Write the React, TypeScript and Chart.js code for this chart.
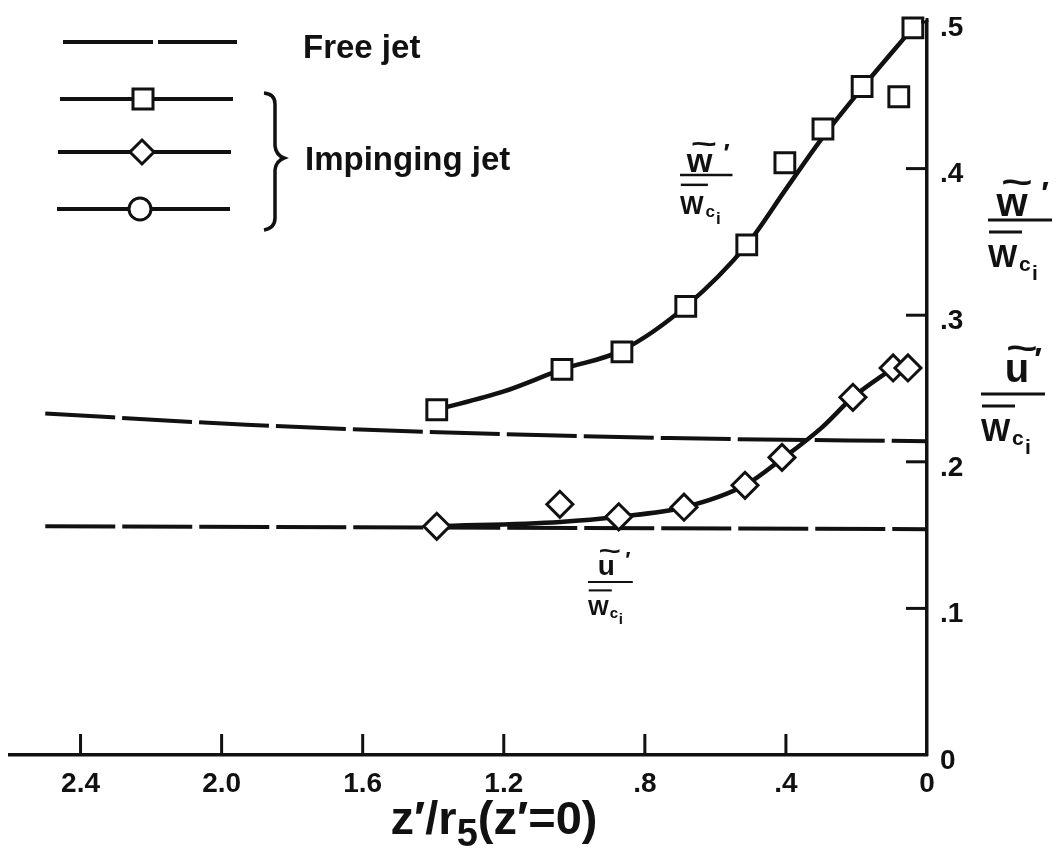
import React, { useEffect, useRef } from "react";
import { Chart, registerables } from "chart.js";

Chart.register(...registerables);

// ---- axis ticks ----
const xTickValues = [2.4, 2.0, 1.6, 1.2, 0.8, 0.4, 0];
const xTickLabels = ["2.4", "2.0", "1.6", "1.2", ".8", ".4", "0"];
const yTickValues = [0, 0.1, 0.2, 0.3, 0.4, 0.5];
const yTickLabels = ["0", ".1", ".2", ".3", ".4", ".5"];

// ---- impinging jet, w'/Wci (squares) ----
const wSquareX = [1.39, 1.035, 0.865, 0.684, 0.511, 0.403, 0.295, 0.184, 0.08, 0.04];
const wSquareY = [0.2355, 0.263, 0.275, 0.306, 0.348, 0.404, 0.427, 0.456, 0.449, 0.496];
// faired curve through the squares
const wCurveX = [1.39, 1.2, 1.035, 0.865, 0.684, 0.511, 0.4, 0.3, 0.184, 0.04];
const wCurveY = [0.2355, 0.248, 0.263, 0.276, 0.306, 0.348, 0.386, 0.42, 0.455, 0.496];

// ---- impinging jet, u'/Wci (diamonds) ----
const uDiamondX = [1.39, 1.041, 0.874, 0.689, 0.516, 0.411, 0.21, 0.096, 0.054];
const uDiamondY = [0.156, 0.171, 0.1625, 0.169, 0.184, 0.203, 0.244, 0.264, 0.264];
// faired curve through the diamonds
const uCurveX = [1.39, 1.04, 0.874, 0.689, 0.516, 0.411, 0.3, 0.21, 0.096];
const uCurveY = [0.156, 0.159, 0.1625, 0.169, 0.184, 0.202, 0.223, 0.244, 0.264];

// ---- free jet (dashed) ----
const freeUpperX = [2.5, 1.93, 1.36, 0.73, 0];
const freeUpperY = [0.233, 0.2253, 0.22, 0.2162, 0.214];
const freeLowerX = [2.5, 0];
const freeLowerY = [0.156, 0.154];

const INK = "#111111";
const FONT = "'Liberation Sans', 'DejaVu Sans', Arial, sans-serif";

const pts = (xs: number[], ys: number[]) => xs.map((x, i) => ({ x, y: ys[i] }));

function line(ctx: CanvasRenderingContext2D, x1: number, y1: number, x2: number, y2: number) {
  ctx.beginPath();
  ctx.moveTo(x1, y1);
  ctx.lineTo(x2, y2);
  ctx.stroke();
}

function drawFrac(
  ctx: CanvasRenderingContext2D,
  x0: number,
  b: number,
  s: number,
  letter: string,
  numCx: number,
  numBase: number
) {
  ctx.save();
  ctx.fillStyle = INK;
  ctx.strokeStyle = INK;
  ctx.textBaseline = "alphabetic";
  ctx.textAlign = "center";
  ctx.font = `bold ${Math.round(40 * s)}px ${FONT}`;
  ctx.fillText(letter, x0 + numCx * s, b - numBase * s);
  // tilde (wide)
  ctx.save();
  ctx.translate(x0 + (numCx + 5) * s, b - (numBase + 23) * s);
  ctx.scale(1.6, 1);
  ctx.font = `bold ${Math.round(34 * s)}px ${FONT}`;
  ctx.fillText("~", 0, 0);
  ctx.restore();
  ctx.font = `bold ${Math.round(32 * s)}px ${FONT}`;
  ctx.fillText("\u2032", x0 + 57 * s, b - (numBase + 12) * s);
  ctx.lineWidth = 3 * s;
  line(ctx, x0, b, x0 + 64 * s, b);
  line(ctx, x0 + 1 * s, b + 12 * s, x0 + 34 * s, b + 12 * s);
  ctx.textAlign = "left";
  ctx.font = `bold ${Math.round(31 * s)}px ${FONT}`;
  ctx.fillText("W", x0, b + 47 * s);
  ctx.font = `bold ${Math.round(21 * s)}px ${FONT}`;
  ctx.fillText("c", x0 + 31 * s, b + 51 * s);
  ctx.fillText("i", x0 + 44 * s, b + 60 * s);
  ctx.restore();
}

const decorPlugin = {
  id: "decor",
  afterDraw(chart: any) {
    const ctx: CanvasRenderingContext2D = chart.ctx;
    const xs = chart.scales.x;
    const ys = chart.scales.y;
    const area = chart.chartArea;
    ctx.save();
    ctx.strokeStyle = INK;
    ctx.fillStyle = INK;
    ctx.lineCap = "butt";

    // inward tick marks
    ctx.lineWidth = 3;
    xTickValues.forEach((v) => {
      if (v === 0) return;
      const px = xs.getPixelForValue(v);
      line(ctx, px, area.bottom, px, area.bottom - 21);
    });
    yTickValues.forEach((v) => {
      if (v === 0) return;
      const py = ys.getPixelForValue(v);
      const len = v >= 0.5 ? 6 : 21;
      line(ctx, area.right, py, area.right - len, py);
    });
    // top of y-axis
    line(ctx, area.right, area.top, area.right, area.top - 4);

    // axis title z'/r5(z'=0)
    ctx.textBaseline = "alphabetic";
    ctx.textAlign = "left";
    const big = `bold 47px ${FONT}`;
    const sub = `bold 38px ${FONT}`;
    const p1 = "z\u2032/r";
    const p2 = "5";
    const p3 = "(z\u2032=0)";
    ctx.font = big;
    const w1 = ctx.measureText(p1).width;
    const w3 = ctx.measureText(p3).width;
    ctx.font = sub;
    const w2 = ctx.measureText(p2).width;
    const total = w1 + w2 + w3;
    let tx = 494 - total / 2;
    const tb = 834;
    ctx.font = big;
    ctx.fillText(p1, tx, tb);
    tx += w1;
    ctx.font = sub;
    ctx.fillText(p2, tx, tb + 12);
    tx += w2;
    ctx.font = big;
    ctx.fillText(p3, tx, tb);

    // legend
    ctx.lineWidth = 4;
    line(ctx, 63, 42, 153, 42);
    line(ctx, 158, 42, 237, 42);
    ctx.font = `bold 33px ${FONT}`;
    ctx.fillText("Free jet", 303, 58);

    line(ctx, 60, 99, 233, 99);
    line(ctx, 58, 152, 231, 152);
    line(ctx, 57, 209, 230, 209);
    ctx.lineWidth = 3;
    ctx.fillStyle = "#ffffff";
    ctx.beginPath();
    ctx.rect(133, 89, 20, 20);
    ctx.fill();
    ctx.stroke();
    ctx.beginPath();
    ctx.moveTo(142, 140);
    ctx.lineTo(154, 152);
    ctx.lineTo(142, 164);
    ctx.lineTo(130, 152);
    ctx.closePath();
    ctx.fill();
    ctx.stroke();
    ctx.beginPath();
    ctx.arc(140, 209, 11, 0, Math.PI * 2);
    ctx.fill();
    ctx.stroke();
    ctx.fillStyle = INK;

    // brace
    ctx.lineWidth = 3.5;
    ctx.beginPath();
    ctx.moveTo(264, 93);
    ctx.quadraticCurveTo(275, 94, 275, 104);
    ctx.lineTo(275, 146);
    ctx.quadraticCurveTo(276, 155, 284, 158);
    ctx.quadraticCurveTo(276, 161, 275, 170);
    ctx.lineTo(275, 218);
    ctx.quadraticCurveTo(275, 228, 264, 230);
    ctx.stroke();

    ctx.font = `bold 33px ${FONT}`;
    ctx.fillText("Impinging jet", 305, 170);

    // fraction labels
    drawFrac(ctx, 988, 220, 1, "w", 24, 4);
    drawFrac(ctx, 981, 394, 1, "u", 36, 12);
    drawFrac(ctx, 680, 175, 0.82, "w", 24, 4);
    drawFrac(ctx, 588, 582, 0.7, "u", 26, 10);

    ctx.restore();
  },
};

export default function App() {
  const ref = useRef<HTMLCanvasElement | null>(null);

  useEffect(() => {
    if (!ref.current) return;
    const lineDs = (xs: number[], ys: number[], dashed: boolean) => ({
      data: pts(xs, ys),
      showLine: true,
      borderColor: INK,
      backgroundColor: INK,
      borderWidth: dashed ? 4 : 4.5,
      borderDash: dashed ? [70, 7] : [],
      pointRadius: 0,
      pointHoverRadius: 0,
      cubicInterpolationMode: "monotone" as const,
      fill: false,
      order: 2,
    });
    const markerDs = (xs: number[], ys: number[], style: string, r: number) => ({
      data: pts(xs, ys),
      showLine: false,
      pointStyle: style,
      pointRadius: r,
      pointHoverRadius: r,
      pointBorderWidth: 3,
      pointBorderColor: INK,
      pointBackgroundColor: "#ffffff",
      borderColor: INK,
      backgroundColor: "#ffffff",
      clip: false,
      order: 0,
    });

    const chart = new Chart(ref.current, {
      type: "scatter",
      data: {
        datasets: [
          markerDs(wSquareX, wSquareY, "rect", 14) as any,
          markerDs(uDiamondX, uDiamondY, "rectRot", 13) as any,
          lineDs(wCurveX, wCurveY, false) as any,
          lineDs(uCurveX, uCurveY, false) as any,
          lineDs(freeUpperX, freeUpperY, true) as any,
          lineDs(freeLowerX, freeLowerY, true) as any,
        ],
      },
      options: {
        responsive: false,
        animation: false,
        devicePixelRatio: 1,
        events: [],
        layout: { autoPadding: false, padding: { left: 10, top: 22, right: 0, bottom: 0 } },
        plugins: {
          legend: { display: false },
          tooltip: { enabled: false },
          title: { display: false },
        },
        scales: {
          x: {
            type: "linear",
            position: "bottom",
            reverse: true,
            min: 0,
            max: 2.6,
            grid: { display: false, drawTicks: false },
            border: { display: true, color: INK, width: 3.5 },
            ticks: {
              autoSkip: false,
              maxRotation: 0,
              minRotation: 0,
              padding: 12,
              color: INK,
              font: { family: FONT, size: 28, weight: "bold" },
              callback: (value: any) => {
                const i = xTickValues.findIndex((v) => Math.abs(v - Number(value)) < 1e-9);
                return i >= 0 ? xTickLabels[i] : "";
              },
            },
            afterBuildTicks: (s: any) => {
              s.ticks = xTickValues.map((v) => ({ value: v }));
            },
            afterFit: (s: any) => {
              s.height = 93;
              s.paddingLeft = 0;
              s.paddingRight = 0;
            },
          },
          y: {
            type: "linear",
            position: "right",
            min: 0,
            max: 0.5,
            grid: { display: false, drawTicks: false },
            border: { display: true, color: INK, width: 3.5 },
            ticks: {
              autoSkip: false,
              padding: 13,
              labelOffset: 6,
              color: INK,
              font: { family: FONT, size: 28, weight: "bold" },
              callback: (value: any) => {
                const i = yTickValues.findIndex((v) => Math.abs(v - Number(value)) < 1e-9);
                return i >= 0 ? yTickLabels[i] : "";
              },
            },
            afterBuildTicks: (s: any) => {
              s.ticks = yTickValues.map((v) => ({ value: v }));
            },
            afterFit: (s: any) => {
              s.width = 134;
              s.paddingTop = 0;
              s.paddingBottom = 0;
            },
          },
        },
      } as any,
      plugins: [decorPlugin],
    });
    return () => chart.destroy();
  }, []);

  return (
    <div style={{ position: "absolute", left: 0, top: 0, width: 1061, height: 848, background: "#ffffff" }}>
      <canvas ref={ref} width={1061} height={848} style={{ width: 1061, height: 848, display: "block" }} />
    </div>
  );
}
